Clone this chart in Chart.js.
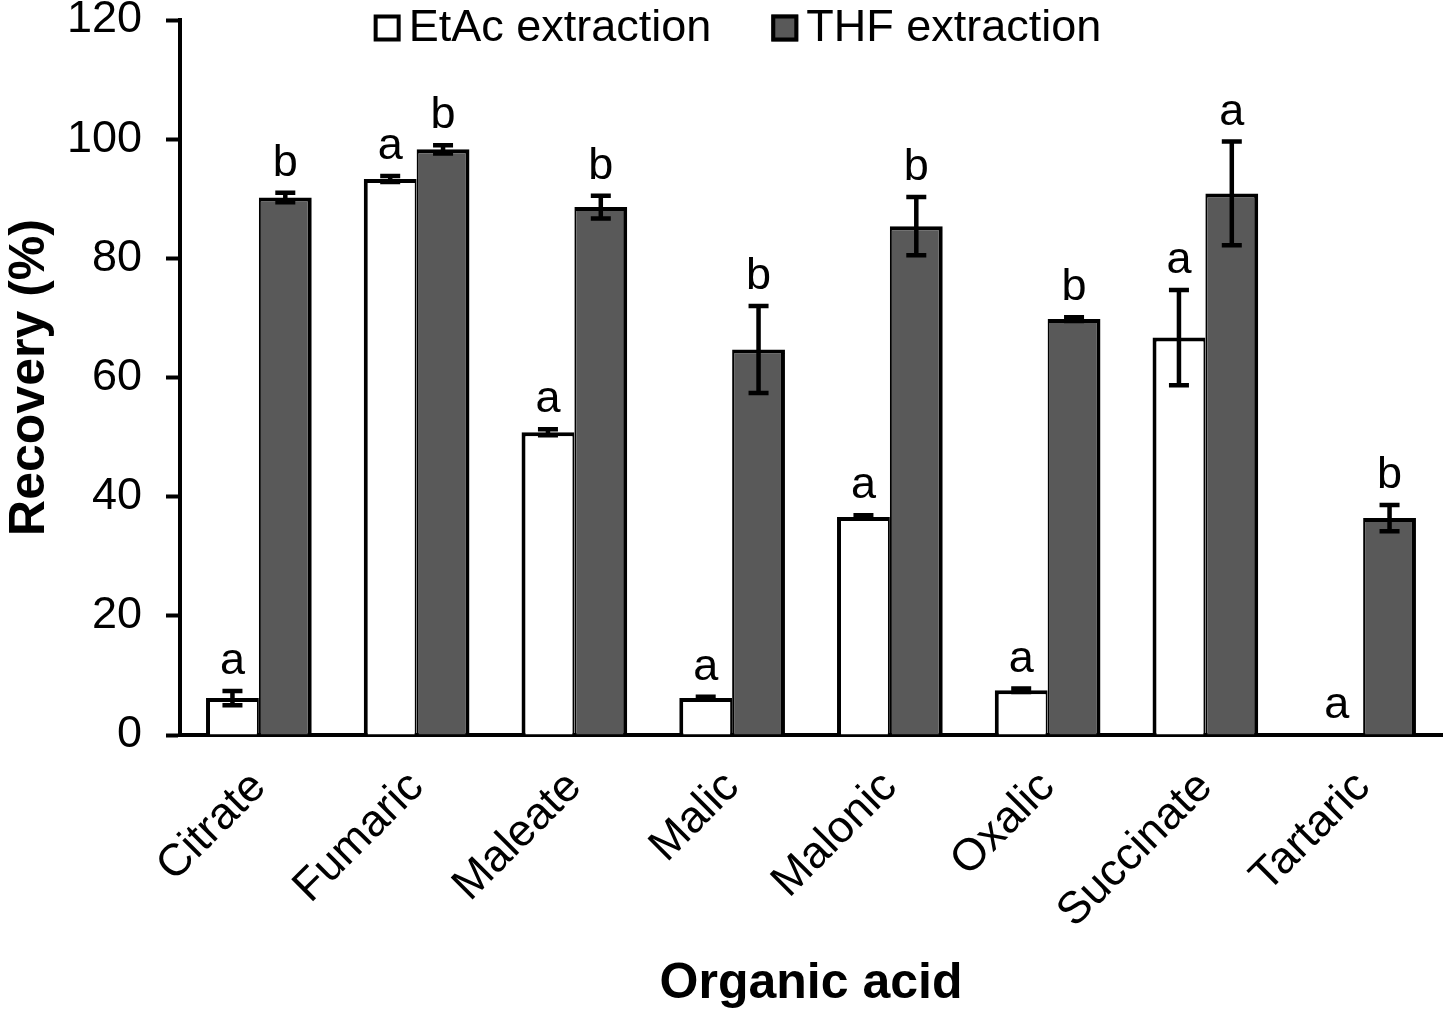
<!DOCTYPE html>
<html>
<head>
<meta charset="utf-8">
<script src="https://cdn.jsdelivr.net/npm/chart.js@4"></script>
<style>
  html, body { margin: 0; padding: 0; background: #fff; }
  #wrap { width: 1447px; height: 1016px; position: relative; }
</style>
</head>
<body>
<div id="wrap"><canvas id="chart"></canvas></div>
<script>
// ---- data ----
const acids = ["Citrate", "Fumaric", "Maleate", "Malic", "Malonic", "Oxalic", "Succinate", "Tartaric"];
const etacRecovery = [6.2, 93.3, 50.8, 6.2, 36.6, 7.5, 66.7, 0];
const etacError    = [1.2, 0.5, 0.5, 0.2, 0.3, 0.3, 8.0, 0];
const thfRecovery  = [90.2, 98.3, 88.6, 64.7, 85.4, 69.8, 90.9, 36.4];
const thfError     = [0.8, 0.7, 1.9, 7.3, 4.9, 0.3, 8.7, 2.2];
const etacLetters  = ["a", "a", "a", "a", "a", "a", "a", "a"];
const thfLetters   = ["b", "b", "b", "b", "b", "b", "a", "b"];
const yTicks = [0, 20, 40, 60, 80, 100, 120];

const FONT = "'Liberation Sans', Arial, sans-serif";
const THF_GREY = "#595959";

// error bars + significance letters
const errorBarPlugin = {
  id: "errorBars",
  afterDatasetsDraw(chart) {
    const ctx = chart.ctx;
    const yScale = chart.scales.y;
    chart.data.datasets.forEach((ds, di) => {
      const meta = chart.getDatasetMeta(di);
      meta.data.forEach((bar, i) => {
        const v = ds.data[i];
        const e = ds.errors[i] || 0;
        const top = yScale.getPixelForValue(v + e);
        if (e > 0) {
          const bot = yScale.getPixelForValue(v - e);
          ctx.save();
          ctx.strokeStyle = "#000";
          ctx.lineWidth = 4.5;
          ctx.beginPath();
          ctx.moveTo(bar.x, top); ctx.lineTo(bar.x, bot);
          ctx.moveTo(bar.x - 10, top); ctx.lineTo(bar.x + 10, top);
          ctx.moveTo(bar.x - 10, bot); ctx.lineTo(bar.x + 10, bot);
          ctx.stroke();
          ctx.restore();
        }
        ctx.save();
        ctx.fillStyle = "#000";
        ctx.font = "45px " + FONT;
        ctx.textAlign = "center";
        ctx.textBaseline = "alphabetic";
        ctx.fillText(ds.letters[i], bar.x, top - 17);
        ctx.restore();
      });
    });
  }
};

// legend drawn inside the plot, as in the figure
const topLegendPlugin = {
  id: "topLegend",
  afterDraw(chart) {
    const ctx = chart.ctx;
    ctx.save();
    ctx.font = "45px " + FONT;
    const box = 27, gap = 8, spacing = 60;
    const items = chart.data.datasets.map(ds => ({
      label: ds.label, fill: ds.backgroundColor, w: box + gap + ctx.measureText(ds.label).width
    }));
    const total = items.reduce((s, it) => s + it.w, 0) + spacing * (items.length - 1);
    let x = chart.width / 2 + 14 - total / 2;
    const cy = 28;
    items.forEach(it => {
      ctx.fillStyle = it.fill;
      ctx.fillRect(x, cy - box / 2, box, box);
      ctx.strokeStyle = "#000";
      ctx.lineWidth = 4;
      ctx.strokeRect(x + 2, cy - box / 2 + 2, box - 4, box - 4);
      ctx.fillStyle = "#000";
      ctx.textBaseline = "middle";
      ctx.textAlign = "left";
      ctx.fillText(it.label, x + box + gap, cy + 1);
      x += it.w + spacing;
    });
    ctx.restore();
  }
};

new Chart(document.getElementById("chart"), {
  type: "bar",
  data: {
    labels: acids,
    datasets: [
      {
        label: "EtAc extraction",
        data: etacRecovery,
        errors: etacError,
        letters: etacLetters,
        backgroundColor: "#ffffff",
        borderColor: "#000",
        borderWidth: { top: 4, left: 4, right: 2, bottom: 0 },
        borderSkipped: "start"
      },
      {
        label: "THF extraction",
        data: thfRecovery,
        errors: thfError,
        letters: thfLetters,
        backgroundColor: THF_GREY,
        borderColor: "#000",
        borderWidth: { top: 4, left: 2, right: 4, bottom: 0 },
        borderSkipped: "start"
      }
    ]
  },
  options: {
    responsive: true,
    maintainAspectRatio: false,
    animation: false,
    devicePixelRatio: 1,
    layout: { padding: { top: 20, right: 5, left: 0, bottom: 0 } },
    datasets: { bar: { categoryPercentage: 0.67, barPercentage: 1.0 } },
    plugins: {
      legend: { display: false },
      tooltip: { enabled: false }
    },
    scales: {
      x: {
        grid: { display: false, drawTicks: false },
        border: { display: true, color: "#000", width: 4 },
        ticks: {
          color: "#000",
          font: { family: FONT, size: 45 },
          maxRotation: 45,
          minRotation: 45,
          padding: 26
        },
        title: {
          display: true,
          text: "Organic acid",
          color: "#000",
          font: { family: FONT, size: 50, weight: "bold" },
          padding: { top: 0, bottom: 2 }
        },
        afterFit(scale) {
          scale.height = 281;
          scale.paddingLeft = 0;
          scale.paddingRight = 0;
        }
      },
      y: {
        min: 0,
        max: 120,
        afterBuildTicks(scale) { scale.ticks = yTicks.map(v => ({ value: v })); },
        grid: { drawOnChartArea: false, drawTicks: true, tickLength: 14, tickWidth: 4, tickColor: "#000" },
        border: { display: true, color: "#000", width: 4 },
        ticks: {
          color: "#000",
          font: { family: FONT, size: 45 },
          padding: 24
        },
        title: {
          display: true,
          text: "Recovery (%)",
          color: "#000",
          font: { family: FONT, size: 50, weight: "bold" },
          padding: { top: 0, bottom: 0 }
        },
        afterFit(scale) {
          scale.width = 180;
          scale.paddingTop = 0;
          scale.paddingBottom = 0;
        }
      }
    }
  },
  plugins: [errorBarPlugin, topLegendPlugin]
});
</script>
</body>
</html>
